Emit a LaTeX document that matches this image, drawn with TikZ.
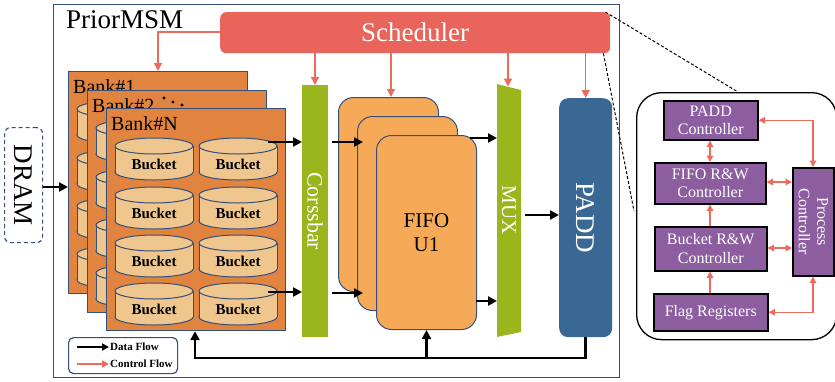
\documentclass[tikz,border=0pt]{standalone}
\usepackage{fontspec}
\setmainfont{Liberation Serif}
\usetikzlibrary{arrows.meta}
\definecolor{navy}{HTML}{34507A}
\definecolor{bankor}{HTML}{E0843F}
\definecolor{bktfill}{HTML}{EEC68E}
\definecolor{fifoor}{HTML}{F6AA57}
\definecolor{xgreen}{HTML}{9BB51C}
\definecolor{paddblue}{HTML}{396895}
\definecolor{schred}{HTML}{E9645A}
\definecolor{ctrlred}{HTML}{EE6A5C}
\definecolor{purp}{HTML}{8D5E9F}
\newcommand\fs[1]{\fontsize{#1}{#1}\selectfont}
% bucket cylinder: #1 name, #2 x, #3 y (top-left), #4 label text
\newcommand\bkt[4]{%
  \fill[bktfill,draw=navy,line width=1pt] (#2+39pt,#3+34) ellipse [x radius=39pt, y radius=8pt];
  \fill[bktfill] (#2,#3+8) rectangle (#2+78,#3+34);
  \draw[navy,line width=1pt] (#2,#3+8) -- (#2,#3+34) (#2+78,#3+8) -- (#2+78,#3+34);
  \fill[bktfill,draw=navy,line width=1pt] (#2+39pt,#3+8) ellipse [x radius=39pt, y radius=8pt];
  \node[font=\fs{15}\bfseries, inner sep=0pt] (#1) at (#2+39,#3+26) {#4};
}
% bank: #1 name, #2 x, #3 y, #4 label, #5 bucket text
\newcommand\bank[5]{%
  \node[bankbox] (#1) at (#2,#3) {};
  \node[anchor=base west, inner sep=0pt, font=\fs{20}] (#1lab) at (#2+5,#3+22) {#4};
  \bkt{#1b11}{#2+9}{#3+30}{#5}\bkt{#1b12}{#2+93}{#3+30}{#5}
  \bkt{#1b21}{#2+9}{#3+79}{#5}\bkt{#1b22}{#2+93}{#3+79}{#5}
  \bkt{#1b31}{#2+9}{#3+127}{#5}\bkt{#1b32}{#2+93}{#3+127}{#5}
  \bkt{#1b41}{#2+9}{#3+175}{#5}\bkt{#1b42}{#2+93}{#3+175}{#5}
}
\begin{document}
\begin{tikzpicture}[x=1pt,y=-1pt,
  bankbox/.style={draw=navy, line width=1.2pt, fill=bankor, anchor=north west, minimum width=179pt, minimum height=222pt, inner sep=0pt},
  fifobox/.style={draw=navy, line width=1pt, fill=fifoor, rounded corners=15pt, anchor=north west, minimum width=100pt, minimum height=194pt, inner sep=0pt},
  ctlbox/.style={draw=black, line width=1.5pt, fill=purp, text=white, font=\fontsize{16}{18.5}\selectfont, align=center, inner sep=0pt, anchor=north west},
  dflow/.style={line width=2.7pt, -{Triangle[length=9pt,width=9pt]}},
  cflow/.style={ctrlred, line width=1.4pt, -{Triangle[length=8pt,width=8pt]}},
  pflow/.style={ctrlred, line width=1.3pt, {Triangle[length=6.5pt,width=6.5pt]}-{Triangle[length=6.5pt,width=6.5pt]}},
  pflowone/.style={ctrlred, line width=1.3pt, -{Triangle[length=6.5pt,width=6.5pt]}},
  wtext/.style={text=white, inner sep=0pt}]
\useasboundingbox (0,0) rectangle (835,381);
% main frame
\node[draw=navy, line width=1.2pt, anchor=north west, minimum width=566pt, minimum height=373pt, inner sep=0pt] (frame) at (53,4) {};
\node[anchor=base west, inner sep=0pt, font=\fs{27}] (title) at (66,28) {PriorMSM};
% scheduler
\node[fill=schred, rounded corners=6pt, anchor=north west, minimum width=390pt, minimum height=41pt, inner sep=0pt, text=white, font=\fs{27}] (sch) at (220,12) {Scheduler};
% DRAM
\node[draw=navy, line width=1.2pt, dash pattern=on 4pt off 3pt, rounded corners=6pt, anchor=north west, minimum width=38pt, minimum height=115pt, inner sep=0pt] (dram) at (4,127) {};
\node[rotate=-90, inner sep=0pt, font=\fs{27}] (dramlab) at (dram.center) {DRAM};
% banks
\bank{bkA}{68}{71}{Bank\#1}{}
\bank{bkB}{87}{90}{Bank\#2}{}
\bank{bkN}{106}{108}{Bank\#N}{Bucket}
\fill (164,98) circle[radius=1.7pt] (173,102) circle[radius=1.7pt] (182,105) circle[radius=1.7pt];
% crossbar
\node[fill=xgreen, anchor=north west, minimum width=26pt, minimum height=252pt, inner sep=0pt] (xbar) at (302,85) {};
\node[rotate=-90, wtext, font=\fs{22}] (xbarlab) at (xbar.center) {Corssbar};
% FIFOs
\node[fifobox] (f1) at (338,97) {};
\node[fifobox] (f2) at (357,116) {};
\node[fifobox, align=center, font=\fs{21}] (f3) at (376,135) {FIFO\\[3pt]U1};
% MUX
\draw[fill=xgreen, draw=none] (497,84) coordinate (m1) -- (521,90) -- (521,332) -- (497,337) -- cycle;
\node[rotate=-90, wtext, font=\fs{21}] (mux) at (509,210) {MUX};
\coordinate (muxtop) at (508,86.5);
% PADD
\node[fill=paddblue, rounded corners=9pt, anchor=north west, minimum width=53pt, minimum height=239pt, inner sep=0pt] (padd) at (559,98) {};
\node[rotate=-90, wtext, font=\fs{27}] (paddlab) at (padd.center) {PADD};
% data flow arrows
\draw[dflow] (dram.east |- 0,187) -- (bkA.west |- 0,187);
\coordinate (o1) at (268,142);
\coordinate (o2) at (268,292);
\draw[dflow] (o1) -- (o1 -| xbar.west);
\draw[dflow] (o2) -- (o2 -| xbar.west);
\coordinate (c1) at (332,142);
\coordinate (c2) at (332,293);
\draw[dflow] (c1) -- (363,142);
\draw[dflow] (c2) -- (363,293);
\coordinate (u1) at (470,138);
\coordinate (u2) at (476,301);
\draw[dflow] (u1) -- (u1 -| m1);
\draw[dflow] (u2) -- (u2 -| m1);
\coordinate (mx) at (525,215);
\draw[dflow] (mx) -- (mx -| padd.west);
\coordinate (fb) at (padd.south |- 0,358);
\draw[line width=2.7pt] (padd.south) -- (fb) -- (195,358);
\draw[dflow] (195,359.3) -- (195,358) -- (bkN.south -| 195,0);
\draw[dflow] (f3.south |- fb) -- (f3.south);
% control flow arrows
\draw[cflow] (sch.west |- 0,32) -- (158,32) -- (bkA.north -| 158,0);
\draw[cflow] (sch.south -| 315,0) -- (xbar.north -| 315,0);
\draw[cflow] (sch.south -| 391,0) -- (f1.north -| 391,0);
\draw[cflow] (sch.south -| muxtop) -- (muxtop);
\draw[cflow] (sch.south -| padd.north) -- (padd.north);
% legend
\node[draw=navy, line width=1.2pt, fill=white, rounded corners=5pt, anchor=north west, minimum width=109pt, minimum height=36pt, inner sep=0pt] (legend) at (68,337) {};
\coordinate (l1) at (77,347);
\coordinate (l2) at (77,364);
\draw[line width=2.4pt, -{Triangle[length=7pt,width=7pt]}] (l1) -- (109,347);
\draw[ctrlred, line width=1.6pt, -{Triangle[length=7pt,width=7pt]}] (l2) -- (109,364);
\node[anchor=west, inner sep=0pt, font=\fs{11}\bfseries] (ldata) at (110,347) {Data Flow};
\node[anchor=west, inner sep=0pt, font=\fs{11}\bfseries] (lctrl) at (110,364) {Control Flow};
% zoom-in panel
\node[draw=black, line width=1.3pt, rounded corners=25pt, anchor=north west, minimum width=200pt, minimum height=247pt, inner sep=0pt] (panel) at (636,92) {};
\draw[line width=1pt, dash pattern=on 3pt off 2pt] (sch.north east) ++(-5,0) -- (738,92);
\draw[line width=1pt, dash pattern=on 3pt off 2pt] (sch.south east) ++(-7,0) -- (634,211);
\node[ctlbox, minimum width=94pt, minimum height=39pt] (padc) at (663,100) {PADD\\Controller};
\node[ctlbox, minimum width=111pt, minimum height=41pt] (fifoc) at (654,162) {FIFO R\&W\\Controller};
\node[ctlbox, minimum width=112pt, minimum height=44pt] (bktc) at (654,226) {Bucket R\&W\\Controller};
\node[ctlbox, minimum width=114pt, minimum height=37pt] (flag) at (653,293) {Flag Registers};
\node[ctlbox, minimum width=41pt, minimum height=108pt] (proc) at (792,167) {};
\node[rotate=-90, wtext, font=\fontsize{16}{18.5}\selectfont, align=center] (proclab) at (proc.center) {Process\\Controller};
\draw[pflow] (padc.east) -| (proc.north -| 813,0);
\draw[pflow] (padc.south -| 710,0) -- (fifoc.north -| 710,0);
\draw[pflow] (fifoc.east |- 0,182) -- (proc.west |- 0,182);
\draw[pflowone] (bktc.north -| 710,0) -- (fifoc.south -| 710,0);
\draw[pflow] (bktc.east |- 0,248) -- (proc.west |- 0,248);
\draw[pflowone] (flag.north -| 710,0) -- (bktc.south -| 710,0);
\draw[pflow] (proc.south -| 813,0) |- (flag.east);
\end{tikzpicture}
\end{document}
